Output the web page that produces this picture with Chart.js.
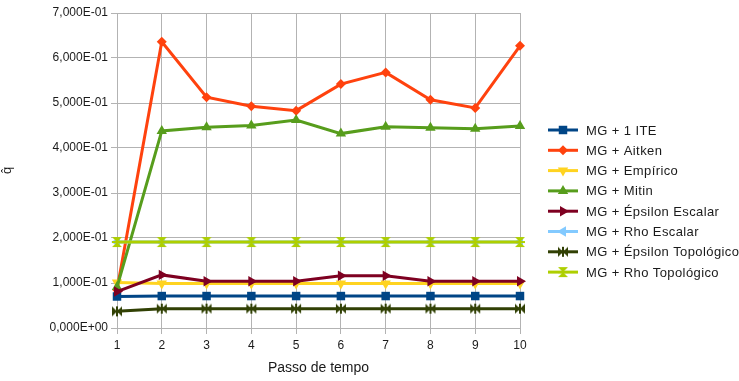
<!DOCTYPE html>
<html>
<head>
<meta charset="utf-8">
<script src="https://cdn.jsdelivr.net/npm/chart.js@4.4.0/dist/chart.umd.min.js"></script>
<style>
  body { margin: 0; background: #fff; }
  #wrap { width: 739px; height: 381px; }
</style>
</head>
<body>
<div id="wrap"><canvas id="grafico" width="739" height="381"></canvas></div>
<script>
// categorias e series
const passos = ['1', '2', '3', '4', '5', '6', '7', '8', '9', '10'];
const yTicks = [0, 0.1, 0.2, 0.3, 0.4, 0.5, 0.6, 0.7];

const mg1ite = [0.070, 0.071, 0.071, 0.071, 0.071, 0.071, 0.071, 0.071, 0.071, 0.071];
const aitken = [0.085, 0.636, 0.513, 0.493, 0.483, 0.542, 0.568, 0.507, 0.489, 0.627];
const empirico = [0.101, 0.099, 0.099, 0.099, 0.099, 0.099, 0.099, 0.099, 0.099, 0.099];
const mitin = [0.091, 0.438, 0.446, 0.450, 0.462, 0.432, 0.447, 0.445, 0.443, 0.449];
const epsEscalar = [0.081, 0.118, 0.104, 0.104, 0.104, 0.116, 0.116, 0.104, 0.104, 0.104];
const rhoEscalar = [0.191, 0.191, 0.191, 0.191, 0.191, 0.191, 0.191, 0.191, 0.191, 0.191];
const epsTopologico = [0.037, 0.043, 0.043, 0.043, 0.043, 0.043, 0.043, 0.043, 0.043, 0.043];
const rhoTopologico = [0.191, 0.191, 0.191, 0.191, 0.191, 0.191, 0.191, 0.191, 0.191, 0.191];

// marcadores especiais (gravata horizontal / ampulheta)
function marcador(cor, vertical) {
  const c = document.createElement('canvas');
  c.width = 12; c.height = 12;
  const g = c.getContext('2d');
  g.fillStyle = cor;
  g.beginPath();
  if (vertical) {
    g.moveTo(1, 1); g.lineTo(6, 6); g.lineTo(11, 1); g.closePath();
    g.moveTo(1, 11); g.lineTo(6, 6); g.lineTo(11, 11); g.closePath();
  } else {
    g.moveTo(1, 1); g.lineTo(6, 6); g.lineTo(1, 11); g.closePath();
    g.moveTo(11, 1); g.lineTo(6, 6); g.lineTo(11, 11); g.closePath();
  }
  g.fill();
  if (vertical) g.fillRect(1, 5, 10, 2); else g.fillRect(5, 1, 2, 10);
  return c;
}

function serie(i, label, data, cor, estilo, rot, raio) {
  return {
    label: label, data: data, order: -i,
    borderColor: cor, backgroundColor: cor,
    borderWidth: 3, tension: 0,
    pointStyle: estilo, pointRotation: rot || 0,
    pointRadius: raio || 5, pointBorderWidth: 0,
    pointBackgroundColor: cor
  };
}

const datasets = [
  serie(0, 'MG + 1 ITE', mg1ite, '#004586', 'rect', 0, 6),
  serie(1, 'MG + Aitken', aitken, '#ff420e', 'rectRot', 0, 5),
  serie(2, 'MG + Empírico', empirico, '#ffd320', 'triangle', 180, 6),
  serie(3, 'MG + Mitin', mitin, '#579d1c', 'triangle', 0, 6),
  serie(4, 'MG + Épsilon Escalar', epsEscalar, '#7e0021', 'triangle', 90, 6),
  serie(5, 'MG + Rho Escalar', rhoEscalar, '#83caff', 'triangle', 270, 6),
  serie(6, 'MG + Épsilon Topológico', epsTopologico, '#314004', marcador('#314004', false), 0, 6),
  serie(7, 'MG + Rho Topológico', rhoTopologico, '#aecf00', marcador('#aecf00', true), 0, 6)
];

function fmtCientifico(v) {
  if (Math.abs(v) < 1e-12) return '0,000E+00';
  const e = Math.floor(Math.log10(v) + 1e-9);
  const m = v / Math.pow(10, e);
  const s = e < 0 ? '-' : '+';
  return m.toFixed(3).replace('.', ',') + 'E' + s + String(Math.abs(e)).padStart(2, '0');
}

// legenda desenhada com linha + marcador (drawPoint usa o fillStyle atual)
const legendaLinha = {
  id: 'legendaLinha',
  afterDraw(chart) {
    const ctx = chart.ctx;
    ctx.save();
    chart.data.datasets.forEach((ds, i) => {
      const y = 130 + i * 20.3;
      ctx.strokeStyle = ds.borderColor;
      ctx.fillStyle = ds.borderColor;
      ctx.lineWidth = 3;
      ctx.beginPath();
      ctx.moveTo(548, y); ctx.lineTo(578, y);
      ctx.stroke();
      Chart.helpers.drawPoint(ctx, {
        pointStyle: ds.pointStyle, rotation: ds.pointRotation,
        radius: ds.pointRadius, borderWidth: 0
      }, 563, y);
      ctx.fillStyle = '#1a1a1a';
      ctx.font = '13px "Liberation Sans", Arial, sans-serif';
      ctx.letterSpacing = '0.4px';
      ctx.textBaseline = 'middle';
      ctx.fillText(ds.label, 586, y + 1);
    });
    ctx.restore();
  }
};

Chart.defaults.font.family = '"Liberation Sans", Arial, sans-serif';
Chart.defaults.color = '#333';

new Chart(document.getElementById('grafico').getContext('2d'), {
  type: 'line',
  data: { labels: passos, datasets: datasets },
  options: {
    responsive: false,
    animation: false,
    layout: { padding: { left: 0, right: 219, top: 13, bottom: 0 } },
    plugins: {
      legend: { display: false },
      tooltip: { enabled: false }
    },
    scales: {
      x: {
        offset: false,
        grid: { color: '#b3b3b3', tickLength: 6, lineWidth: 1 },
        border: { color: '#b3b3b3' },
        ticks: { color: '#1a1a1a', font: { size: 12 }, padding: 4, maxRotation: 0 },
        title: { display: true, text: 'Passo de tempo', color: '#1a1a1a', font: { size: 14 }, padding: { top: 6 } },
        afterFit(scale) { scale.height = 53; }
      },
      y: {
        min: 0, max: 0.7,
        afterBuildTicks(scale) { scale.ticks = yTicks.map(v => ({ value: v })); },
        grid: { color: '#b3b3b3', tickLength: 6 },
        border: { color: '#b3b3b3' },
        ticks: { color: '#1a1a1a', font: { size: 12 }, padding: 3, callback: v => fmtCientifico(v) },
        title: { display: true, text: 'q\u0302', color: '#1a1a1a', font: { size: 13 }, padding: { top: 0, bottom: 0, left: 6 } },
        afterFit(scale) { scale.width = 117; }
      }
    }
  },
  plugins: [legendaLinha]
});
</script>
</body>
</html>
